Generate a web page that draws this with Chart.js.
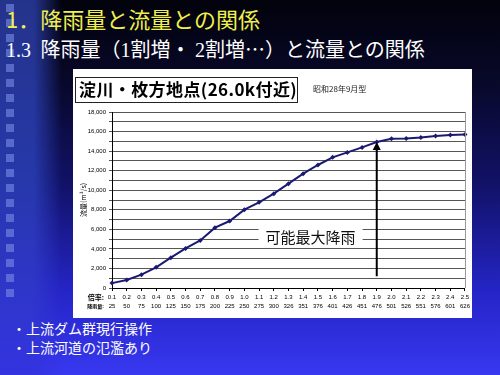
<!DOCTYPE html>
<html>
<head>
<meta charset="utf-8">
<script src="https://cdn.jsdelivr.net/npm/chart.js@4.4.0/dist/chart.umd.min.js"></script>
<style>
    html, body { margin: 0; padding: 0; }
    body {
        width: 500px; height: 375px; overflow: hidden; position: relative;
        background: linear-gradient(to bottom, #02020c 0%, #08082a 22%, #12126a 50%, #2525c8 78%, #3838f0 100%);
        font-family: "Noto Sans CJK JP", sans-serif;
    }
    #strip {
        position: absolute; left: 0; top: 0; width: 62px; height: 375px;
        background: linear-gradient(to bottom, #24338a 0%, #2638a8 45%, #3434e0 100%);
        -webkit-mask-image: linear-gradient(to right, #000 55%, transparent);
        mask-image: linear-gradient(to right, #000 55%, transparent);
    }
    #squares {
        position: absolute; left: 6px; top: 4px; width: 8px; height: 300px;
        background: repeating-linear-gradient(to bottom, rgba(120,140,230,0.6) 0 8px, transparent 8px 15px);
    }
    #t1 { position: absolute; left: 6px; top: 3px; font-size: 22px; line-height: 30px; color: #f0f04c; white-space: nowrap; }
    #t2 { position: absolute; left: 6px; top: 35px; font-size: 20px; line-height: 28px; color: #fff; white-space: nowrap;
          font-family: "Liberation Serif", "Noto Sans CJK JP", serif; }
    #t2 .j { font-family: "Noto Sans CJK JP", sans-serif; }
    #panel { position: absolute; left: 73px; top: 69px; width: 399px; height: 249px; background: #fff; }
    #panel canvas { position: absolute; left: 0; top: 0; }
    #boxTitle {
        position: absolute; left: 2px; top: 8px; width: 223px; height: 26px; box-sizing: border-box;
        border: 1.5px solid #222; font-size: 17px; font-weight: bold; line-height: 22px;
        padding-left: 3px; color: #000; white-space: nowrap; letter-spacing: 0.4px;
    }
    #sub { position: absolute; left: 240px; top: 14px; font-size: 8px; color: #222; white-space: nowrap; }
    .note { position: absolute; left: 12px; font-size: 14px; color: #fff; white-space: nowrap; }
</style>
</head>
<body>
<div id="strip"></div>
<div id="squares"></div>
<div id="t1">1．降雨量と流量との関係</div>
<div id="t2">1.3 <span class="j">&nbsp;降雨量（</span>1<span class="j">割増・ </span>2<span class="j">割増…）と流量との関係</span></div>
<div id="panel">
    <canvas id="chart" width="399" height="249"></canvas>
    <div id="boxTitle">淀川・枚方地点(26.0k付近)</div>
    <div id="sub">昭和28年9月型</div>
</div>
<div class="note" style="top:318px">・上流ダム群現行操作</div>
<div class="note" style="top:337px">・上流河道の氾濫あり</div>

<script>
// --- Data ---
const ratios = ['0.1', '0.2', '0.3', '0.4', '0.5', '0.6', '0.7', '0.8', '0.9', '1.0', '1.1', '1.2', '1.3',
                '1.4', '1.5', '1.6', '1.7', '1.8', '1.9', '2.0', '2.1', '2.2', '2.3', '2.4', '2.5'];
const rainfall = [25, 50, 75, 100, 125, 150, 175, 200, 225, 250, 275, 300, 326,
                  351, 376, 401, 426, 451, 476, 501, 526, 551, 576, 601, 626];
const flow = [500, 820, 1360, 2110, 3100, 4050, 4870, 6170, 6850, 8010, 8760, 9650, 10670,
              11690, 12580, 13360, 13870, 14380, 14930, 15270, 15300, 15400, 15550, 15650, 15710];

const yMax = 18000;
const yStep = 1000;

// 可能最大降雨 (arrow at 1.9)
const pmpIndex = 18;
const pmpArrowBase = 1200;
const pmpLabel = '可能最大降雨';
const pmpLabelAt = { index: 13.5, value: 5250 };

const extras = {
    id: 'extras',
    afterDraw(chart) {
        const ctx = chart.ctx;
        const area = chart.chartArea;
        const xs = chart.scales.x;
        const ys = chart.scales.y;
        ctx.save();

        // right border of plot
        ctx.strokeStyle = '#999';
        ctx.lineWidth = 1;
        ctx.beginPath();
        ctx.moveTo(area.right + 0.5, area.top);
        ctx.lineTo(area.right + 0.5, area.bottom);
        ctx.stroke();

        // row captions for the two-line x labels
        ctx.fillStyle = '#000';
        ctx.textAlign = 'right';
        ctx.textBaseline = 'middle';
        const x0 = xs.getPixelForValue(0) - 8;
        ctx.font = 'bold 7px "Noto Sans CJK JP"';
        ctx.fillText('倍率:', x0, area.bottom + 9);
        ctx.font = 'bold 5px "Noto Sans CJK JP"';
        ctx.fillText('降雨量:', x0, area.bottom + 18);

        // label
        const lx = xs.getPixelForValue(pmpLabelAt.index);
        const ly = ys.getPixelForValue(pmpLabelAt.value);
        ctx.font = '15px "Noto Sans CJK JP"';
        const w = ctx.measureText(pmpLabel).width + 14;
        ctx.fillStyle = '#fff';
        ctx.fillRect(lx - w / 2, ly - 10, w, 20);
        ctx.fillStyle = '#111';
        ctx.textAlign = 'center';
        ctx.fillText(pmpLabel, lx, ly + 1);

        // arrow
        const ax = xs.getPixelForValue(pmpIndex);
        const aTop = ys.getPixelForValue(flow[pmpIndex]);
        const aBot = ys.getPixelForValue(pmpArrowBase);
        ctx.strokeStyle = '#000';
        ctx.lineWidth = 2;
        ctx.beginPath();
        ctx.moveTo(ax, aBot);
        ctx.lineTo(ax, aTop + 6);
        ctx.stroke();
        ctx.fillStyle = '#000';
        ctx.beginPath();
        ctx.moveTo(ax, aTop);
        ctx.lineTo(ax - 4, aTop + 8);
        ctx.lineTo(ax + 4, aTop + 8);
        ctx.closePath();
        ctx.fill();

        ctx.restore();
    }
};

new Chart(document.getElementById('chart').getContext('2d'), {
    type: 'line',
    data: {
        labels: ratios.map((r, i) => [r, String(rainfall[i])]),
        datasets: [{
            data: flow,
            borderColor: '#1a1a72',
            backgroundColor: '#1a1a72',
            borderWidth: 2,
            pointStyle: 'rectRot',
            pointRadius: 2.5,
            pointBackgroundColor: '#1a1a72',
            pointBorderWidth: 0,
            tension: 0
        }]
    },
    options: {
        responsive: false,
        animation: false,
        devicePixelRatio: 1,
        layout: { padding: { top: 43, right: 5, left: 0, bottom: 0 } },
        plugins: { legend: { display: false }, tooltip: { enabled: false } },
        scales: {
            x: {
                offset: false,
                grid: { drawOnChartArea: false, drawTicks: true, tickLength: 3, color: '#000' },
                border: { color: '#000', width: 1 },
                ticks: {
                    autoSkip: false, maxRotation: 0, padding: 2, color: '#000',
                    font: { size: 6, family: 'Arial, "Liberation Sans"', lineHeight: 1.5 }
                },
                afterFit: s => { s.height = 30; }
            },
            y: {
                min: 0,
                max: yMax,
                grid: { color: '#555', tickLength: 3 },
                border: { color: '#000', width: 1 },
                ticks: {
                    stepSize: yStep, autoSkip: false, color: '#000', padding: 3,
                    font: { size: 6, family: 'Arial, "Liberation Sans"' },
                    callback: v => (v % 2000 === 0 ? v.toLocaleString('en-US') : '')
                },
                title: {
                    display: true, text: '流量(m³/s)', color: '#000', padding: 6,
                    font: { size: 7, family: '"Noto Sans CJK JP"' }
                },
                afterFit: s => { s.width = 39; }
            }
        }
    },
    plugins: [extras]
});
</script>
</body>
</html>
